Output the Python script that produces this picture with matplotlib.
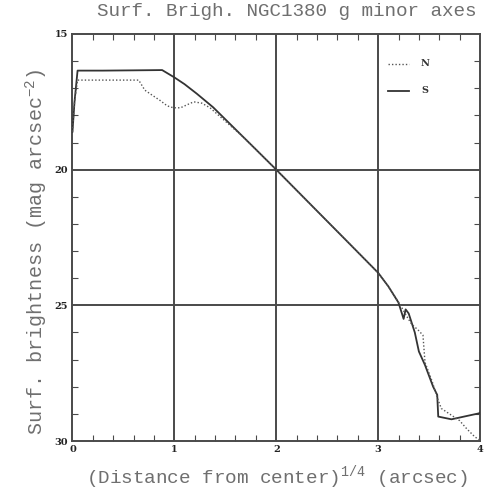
import matplotlib
matplotlib.use("Agg")
import matplotlib.pyplot as plt
from matplotlib.ticker import MultipleLocator

# ---- data ----
s_x = [0.0, 0.02, 0.05, 0.3, 0.6, 0.88, 1.0, 1.1, 1.22, 1.38, 1.68, 1.78, 2.0,
       2.3, 2.4, 2.69, 3.0, 3.1, 3.2, 3.25, 3.27, 3.3, 3.36, 3.4, 3.46, 3.54,
       3.58, 3.59, 3.72, 3.99, 4.0]
s_m = [18.6, 17.5, 16.35, 16.35, 16.34, 16.33, 16.6, 16.85, 17.2, 17.7, 18.81, 19.18, 20.0,
       21.14, 21.52, 22.62, 23.8, 24.3, 24.9, 25.5, 25.15, 25.3, 26.0, 26.7, 27.2, 28.0,
       28.3, 29.1, 29.2, 28.98, 28.95]

n_x = [0.0, 0.02, 0.05, 0.65, 0.71, 0.78, 0.86, 0.93, 0.99, 1.06, 1.13, 1.19, 1.27,
       1.35, 1.42, 1.68, 1.78, 2.0, 2.3, 2.4, 2.69, 3.0, 3.1, 3.22, 3.28, 3.33, 3.39,
       3.44, 3.46, 3.53, 3.58, 3.62, 3.7, 3.8, 3.87, 3.95, 4.0]
n_m = [18.6, 17.5, 16.7, 16.7, 17.07, 17.25, 17.45, 17.65, 17.72, 17.72, 17.6, 17.5, 17.55,
       17.72, 17.95, 18.81, 19.18, 20.0, 21.14, 21.52, 22.62, 23.8, 24.3, 25.0, 25.4, 25.7, 25.9,
       26.1, 27.1, 27.8, 28.4, 28.8, 29.0, 29.25, 29.55, 29.85, 29.97]

title = "Surf. Brigh. NGC1380 g minor axes"
xlabel = r"(Distance from center)$^{1/4}$ (arcsec)"
ylabel = r"Surf. brightness (mag arcsec$^{-2}$)"
xticks = [0, 1, 2, 3, 4]
yticks = [15, 20, 25, 30]

plt.rcParams['mathtext.fontset'] = 'custom'
plt.rcParams['mathtext.rm'] = 'Liberation Mono'
plt.rcParams['mathtext.it'] = 'Liberation Mono'
plt.rcParams['mathtext.bf'] = 'Liberation Mono:bold'
fig = plt.figure(figsize=(5.04, 4.91), dpi=100)
ax = fig.add_axes([0.1438, 0.1018, 0.8086, 0.829])

gc = '#4a4a4a'
ax.plot(s_x, s_m, color='#333333', lw=1.3, label='S', zorder=3)
ax.plot(n_x, n_m, color='#555555', lw=1.0, ls=(0, (1, 1.5)), label='N', zorder=3)

ax.set_xlim(0, 4)
ax.set_ylim(30, 15)
ax.set_xticks(xticks)
ax.set_yticks(yticks)
ax.xaxis.set_minor_locator(MultipleLocator(0.2))
ax.yaxis.set_minor_locator(MultipleLocator(1))
ax.tick_params(which='both', direction='in', top=True, right=True, colors=gc)
ax.tick_params(which='major', length=0, pad=3, labelcolor='#222222')
ax.tick_params(which='minor', length=4, width=0.8)
for lab in ax.get_xticklabels() + ax.get_yticklabels():
    lab.set_fontfamily('DejaVu Serif')
    lab.set_fontweight('bold')
    lab.set_fontsize(7)

for v in [1, 2, 3]:
    ax.axvline(v, color=gc, lw=1.4, zorder=2)
for v in [20, 25]:
    ax.axhline(v, color=gc, lw=1.4, zorder=2)
for sp in ax.spines.values():
    sp.set_color(gc)
    sp.set_linewidth(1.4)

# legend drawn manually in data coordinates
ax.plot([3.1, 3.3], [16.1, 16.1], color='#555555', lw=1.0, ls=(0, (1, 1.5)))
ax.text(3.42, 16.1, 'N', fontsize=7, fontweight='bold', family='DejaVu Serif',
        va='center', ha='left', color='#333333')
ax.plot([3.1, 3.3], [17.1, 17.1], color='#333333', lw=1.3)
ax.text(3.42, 17.1, 'S', fontsize=7, fontweight='bold', family='DejaVu Serif',
        va='center', ha='left', color='#333333')

tfont = ['Liberation Mono', 'DejaVu Sans Mono']
fig.text(0.5685, 0.9756, title, fontsize=13.9, family=tfont, color='#6f6f6f',
         ha='center', va='center')
fig.text(0.549, 0.028, xlabel, fontsize=13.9, family=tfont, color='#6f6f6f',
         ha='center', va='center')
fig.text(0.073, 0.487, ylabel, fontsize=14.5, family=tfont, color='#6f6f6f',
         ha='center', va='center', rotation=90)

fig.savefig('out.png', dpi=100)
